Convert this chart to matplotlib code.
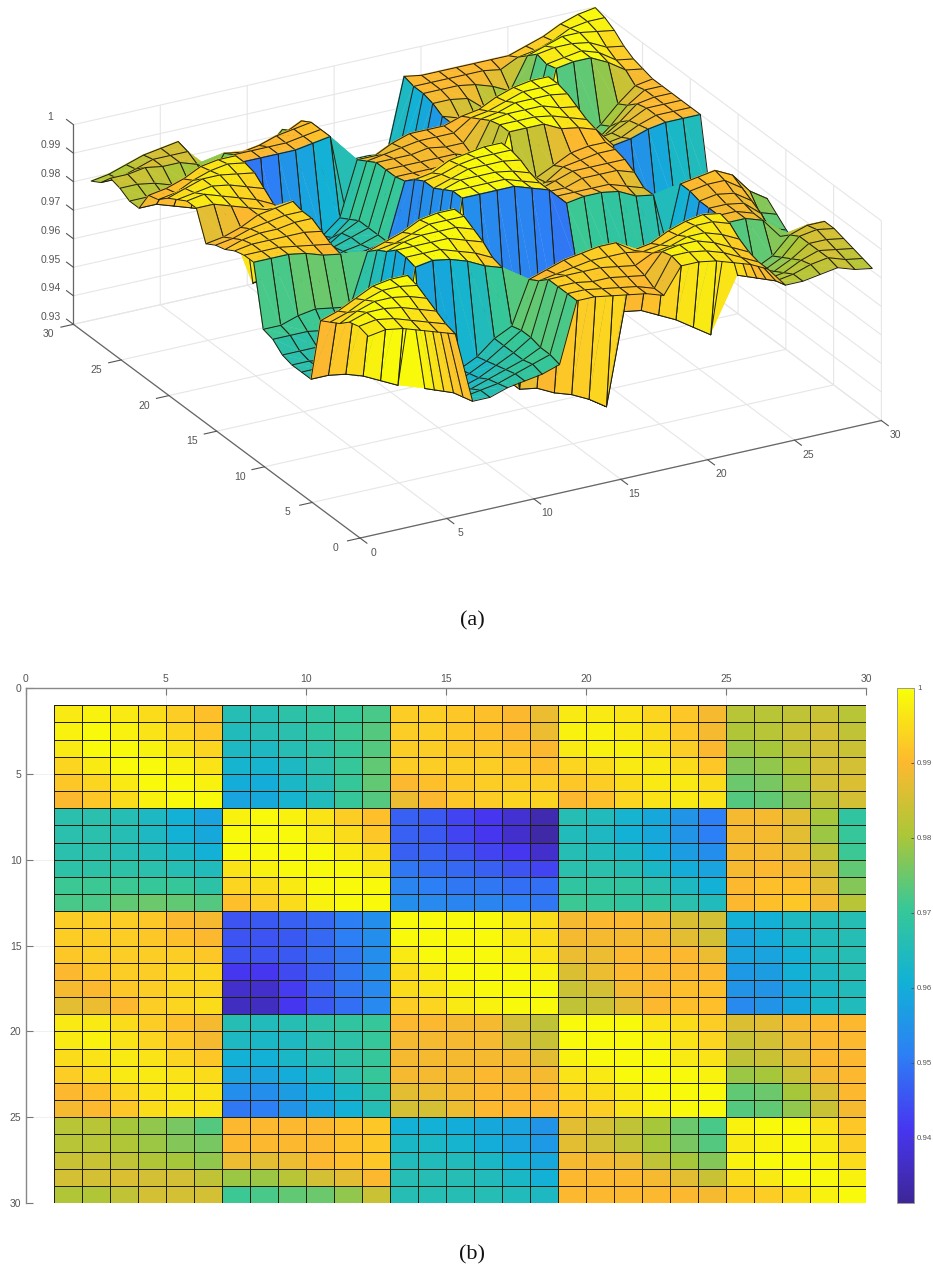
import numpy as np
import matplotlib
matplotlib.use("Agg")
import matplotlib.pyplot as plt
from matplotlib.colors import LinearSegmentedColormap, Normalize
from matplotlib.cm import ScalarMappable
from mpl_toolkits.mplot3d.art3d import Poly3DCollection

# Surface heights in thousandths, one row per y = 1..30, one column per x = 1..30
Z_ROWS = [
 [997,998,997,995,993,991, 966,966,968,969,970,972, 993,993,992,991,990,988, 997,997,996,994,992,989, 982,982,983,984,982,981],
 [998,999,998,996,994,992, 965,966,967,969,971,973, 993,993,992,991,990,988, 998,998,997,995,992,989, 981,982,984,985,983,982],
 [997,999,999,998,996,994, 964,964,966,968,970,973, 993,993,992,992,991,990, 997,998,998,996,993,990, 979,980,983,985,984,983],
 [994,997,999,999,998,996, 962,962,964,967,970,974, 993,993,993,993,992,991, 994,995,997,997,995,992, 977,978,981,985,985,984],
 [992,994,997,999,999,998, 960,960,963,966,970,974, 990,991,992,993,993,993, 992,993,995,997,997,995, 975,976,979,985,986,985],
 [990,992,995,998,999,999, 958,959,962,965,970,973, 988,990,992,993,994,994, 990,991,994,996,997,996, 973,974,977,983,985,985],
 [967,967,966,964,961,958, 998,999,998,996,993,991, 947,946,943,941,938,934, 966,965,962,959,955,951, 989,989,987,980,969,966],
 [967,967,966,964,961,959, 999,999,999,997,995,992, 947,946,943,941,937,933, 965,964,961,959,955,951, 989,989,987,979,970,967],
 [967,967,966,965,963,961, 999,999,999,999,997,995, 947,947,945,943,941,937, 966,965,963,960,957,954, 989,989,988,983,971,970],
 [968,968,968,967,966,965, 996,998,999,999,999,997, 950,949,948,947,945,943, 967,967,966,963,960,958, 989,990,989,985,974,972],
 [971,971,971,970,970,968, 994,995,997,999,999,999, 952,951,950,950,949,949, 969,969,969,967,964,961, 990,991,991,987,977,975],
 [972,972,974,975,974,973, 991,993,995,998,999,999, 954,953,952,952,951,950, 971,970,969,969,967,965, 990,991,992,989,982,978],
 [993,993,993,992,990,989, 945,946,947,948,951,954, 999,999,999,999,997,995, 989,990,990,989,986,985, 961,961,964,965,966,966],
 [993,993,993,992,991,990, 945,945,946,948,951,954, 999,999,999,999,997,995, 989,989,989,989,987,985, 958,960,963,965,966,966],
 [992,993,993,993,993,992, 945,945,946,948,950,954, 997,999,999,999,998,996, 988,988,990,990,990,988, 958,958,961,965,966,966],
 [990,992,993,993,994,994, 941,941,944,947,950,954, 995,997,999,999,999,998, 986,988,990,990,990,990, 956,957,961,964,966,966],
 [989,990,992,993,994,994, 937,937,942,947,950,953, 995,996,998,999,999,999, 984,985,989,990,991,991, 955,955,959,963,965,965],
 [987,988,990,993,994,995, 936,936,941,946,949,953, 993,994,997,998,999,999, 983,984,987,990,991,991, 953,955,959,963,965,965],
 [997,997,995,993,991,989, 966,965,966,968,969,970, 990,990,989,989,985,983, 999,999,999,996,995,993, 986,987,989,990,990,990],
 [997,998,996,994,992,989, 964,963,964,967,968,970, 989,989,989,989,986,984, 999,999,999,998,996,994, 984,985,988,990,990,990],
 [995,996,997,996,994,992, 961,961,963,966,968,970, 989,989,989,989,989,987, 998,999,999,999,997,996, 983,984,987,990,990,990],
 [993,995,997,997,996,995, 958,958,960,963,967,970, 989,989,989,990,989,989, 996,997,999,999,999,998, 979,980,984,989,990,990],
 [990,991,994,996,997,996, 954,954,957,960,963,968, 987,988,989,990,990,990, 994,995,997,999,999,999, 974,975,980,986,990,990],
 [989,990,992,995,996,996, 950,951,955,958,961,966, 985,985,988,990,990,990, 992,993,996,998,999,999, 973,974,978,984,989,990],
 [982,982,980,978,976,973, 990,990,990,990,991,992, 961,961,960,959,958,955, 987,985,983,980,975,972, 998,999,999,996,992,991],
 [982,982,981,979,977,976, 990,990,990,990,991,992, 963,963,962,960,958,956, 987,985,983,980,976,973, 997,998,999,997,993,992],
 [984,984,983,981,980,978, 988,987,988,990,991,992, 965,965,965,963,961,959, 989,989,988,983,980,977, 998,999,999,998,995,994],
 [985,985,986,985,985,983, 979,979,982,985,987,990, 966,966,966,965,963,961, 990,990,990,989,987,984, 995,997,999,999,998,997],
 [981,981,983,985,985,985, 971,972,974,975,978,984, 966,966,966,966,965,964, 990,990,990,990,990,989, 992,993,995,998,999,999],
 [979,980,982,984,985,986, 970,971,973,974,976,982, 967,966,966,966,966,965, 991,990,990,990,990,990, 990,992,994,997,999,1000],
]
GRID_COORDS = list(range(1, 31))
AXIS_TICKS = [0, 5, 10, 15, 20, 25, 30]
Z_TICKS = [0.93, 0.94, 0.95, 0.96, 0.97, 0.98, 0.99, 1.0]
Z_TICK_LABELS = ["0.93", "0.94", "0.95", "0.96", "0.97", "0.98", "0.99", "1"]
CBAR_TICKS = [0.94, 0.95, 0.96, 0.97, 0.98, 0.99, 1.0]
CBAR_LABELS = ["0.94", "0.95", "0.96", "0.97", "0.98", "0.99", "1"]
PARULA_ANCHORS = ["#3e2698", "#4736f0", "#2d7ff5", "#11b1d6", "#37c897", "#abc738", "#fdb92f", "#f8ff08"]

W, H = 933, 1273
plt.rcParams["font.family"] = ["Liberation Sans", "DejaVu Sans"]
fig = plt.figure(figsize=(W / 100, H / 100), dpi=100, facecolor="white")

def rect(left, top, right, bottom):
    return [left / W, 1 - bottom / H, (right - left) / W, (bottom - top) / H]

cmap = LinearSegmentedColormap.from_list("parula_like", PARULA_ANCHORS, N=256)
norm = Normalize(0.9313, 1.0)
Z = np.array(Z_ROWS, dtype=float) / 1000.0
X, Y = np.meshgrid(GRID_COORDS, GRID_COORDS)
EDGE = (0.13, 0.12, 0.05)
GREY = "#555555"

# (a) surface: cells added far to near, a true painter's order for a height field seen from -x, -y.
# Each cell is filled as two triangles so folded cells stay solid, then outlined as a quad.
S = 844
ax3 = fig.add_axes(rect(44, -138, 44 + S, -138 + S), projection="3d", proj_type="ortho")
ax3.patch.set_visible(False)
ax3.computed_zorder = False
ax3.view_init(elev=24.2, azim=-118.8)
ax3.set_box_aspect((1, 1, 0.368), zoom=1.0)
colors = cmap(norm(Z))
order = 10
for i in range(Z.shape[0] - 2, -1, -1):
    for j in range(Z.shape[1] - 2, -1, -1):
        v0 = (X[i, j], Y[i, j], Z[i, j])
        v1 = (X[i, j + 1], Y[i, j + 1], Z[i, j + 1])
        v2 = (X[i + 1, j + 1], Y[i + 1, j + 1], Z[i + 1, j + 1])
        v3 = (X[i + 1, j], Y[i + 1, j], Z[i + 1, j])
        c = colors[i, j]
        ax3.add_collection3d(Poly3DCollection([[v1, v2, v3], [v0, v1, v3]], facecolors=[c, c], edgecolors=[c, c],
                                              linewidths=0.25, zorder=order))
        ax3.add_collection3d(Poly3DCollection([[v0, v1, v2, v3]], facecolors=[(0, 0, 0, 0)], edgecolors=[EDGE],
                                              linewidths=0.7, zorder=order + 1))
        order += 2
ax3.set_xlim(0, 30, view_margin=0)
ax3.set_ylim(0, 30, view_margin=0)
ax3.set_zlim(0.93, 1.0, view_margin=0)
ax3.set_xticks(AXIS_TICKS)
ax3.set_yticks(AXIS_TICKS)
ax3.set_zticks(Z_TICKS)
ax3.set_zticklabels(Z_TICK_LABELS)
for axis in (ax3.xaxis, ax3.yaxis, ax3.zaxis):
    axis.set_pane_color((1, 1, 1, 0))
    axis.pane.set_edgecolor((1, 1, 1, 0))
    axis.line.set_color("#666666")
    axis.line.set_linewidth(0.9)
    axis._axinfo["grid"].update(color="#e6e6e6", linewidth=0.8)
    axis._axinfo["tick"].update(inward_factor=0.0, outward_factor=-0.3, linewidth={True: 0.8, False: 0.8}, color="#666666")
    axis.set_tick_params(labelsize=7.5, labelcolor=GREY, colors=GREY, pad=7)
ax3.zaxis._get_tickdir = lambda position: 1
ax3.zaxis._axinfo["tick"].update(outward_factor=0.3)
ax3.zaxis.set_tick_params(pad=1)
for axis in (ax3.xaxis, ax3.yaxis, ax3.zaxis):
    for tick in axis.get_major_ticks():
        tick.label1.set_va("bottom")

# (b) top view
ax2 = fig.add_axes(rect(25.5, 688, 866.5, 1203))
ax2.pcolormesh(X, Y, Z[:-1, :-1], cmap=cmap, norm=norm, shading="flat", edgecolors=EDGE, linewidth=0.6)
ax2.set_xlim(0, 30)
ax2.set_ylim(30, 0)
ax2.set_xticks(AXIS_TICKS)
ax2.set_yticks(AXIS_TICKS)
ax2.xaxis.tick_top()
ax2.tick_params(direction="in", length=5, width=0.8, color="#777777", labelsize=7.5, labelcolor=GREY, pad=3)
ax2.grid(True, color="#eeeeee", linewidth=0.6)
ax2.set_axisbelow(True)
for name in ("right", "bottom"):
    ax2.spines[name].set_visible(False)
for name in ("left", "top"):
    ax2.spines[name].set_color("#888888")
    ax2.spines[name].set_linewidth(1.0)

cax = fig.add_axes(rect(897, 688, 914, 1203))
cbar = fig.colorbar(ScalarMappable(norm=norm, cmap=cmap), cax=cax, ticks=CBAR_TICKS)
cbar.ax.set_yticklabels(CBAR_LABELS)
cbar.ax.tick_params(direction="in", length=2.5, width=0.7, color="#555555", labelsize=5.7, labelcolor=GREY, pad=2.2)
cbar.outline.set_edgecolor("#999999")
cbar.outline.set_linewidth(0.7)

fig.text(472 / W, 1 - 621 / H, "(a)", family="Liberation Serif", fontsize=16, ha="center", va="center", color="#111111")
fig.text(472 / W, 1 - 1255 / H, "(b)", family="Liberation Serif", fontsize=16, ha="center", va="center", color="#111111")

fig.savefig("out.png", dpi=100, facecolor="white")
